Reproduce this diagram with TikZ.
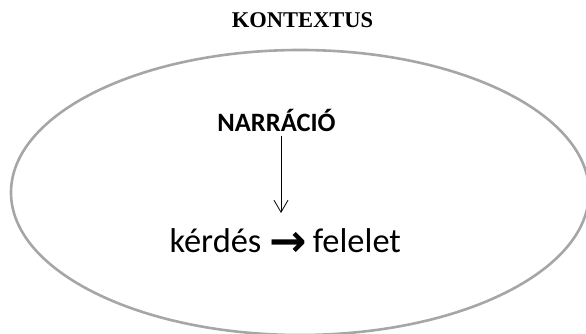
\documentclass[tikz,border=0pt]{standalone}
\usepackage{fontspec}
\usepackage{graphicx}
\setmainfont{Liberation Serif}
\newfontfamily\calibri{Carlito}
\newfontfamily\arrowfont{DejaVu Sans}
\usetikzlibrary{arrows.meta}
\definecolor{ringgray}{RGB}{166,166,166}
\newcommand{\boldarrow}{\raisebox{-3.5pt}{\scalebox{1.3}{\arrowfont\bfseries →}}}

\begin{document}
\begin{tikzpicture}[x=1pt,y=1pt]

        \useasboundingbox (0,0) rectangle (586,334);

        \draw[ringgray, line width=2.6pt] (300,141.5) ellipse [x radius=289, y radius=142.5];

        \node[anchor=base, font=\bfseries\fontsize{22.5}{27}\selectfont] (kontextus) at (302.5,306.5) {KONTEXTUS};
        \node[anchor=base, font=\calibri\bfseries\fontsize{26.5}{32}\selectfont] (narracio) at (276.5,202) {NARRÁCIÓ};
        \node[anchor=base west, font=\calibri\fontsize{34.4}{41}\selectfont] (kerdesfelelet) at (166,81) {kérdés\hspace{8pt}\boldarrow\hspace{6pt}felelet};

        \coordinate (tip) at (281,121);
        \draw[-{Straight Barb[length=12pt,width=14pt]}, line width=0.8pt] (narracio.south -| tip) -- (tip);

\end{tikzpicture}
\end{document}
